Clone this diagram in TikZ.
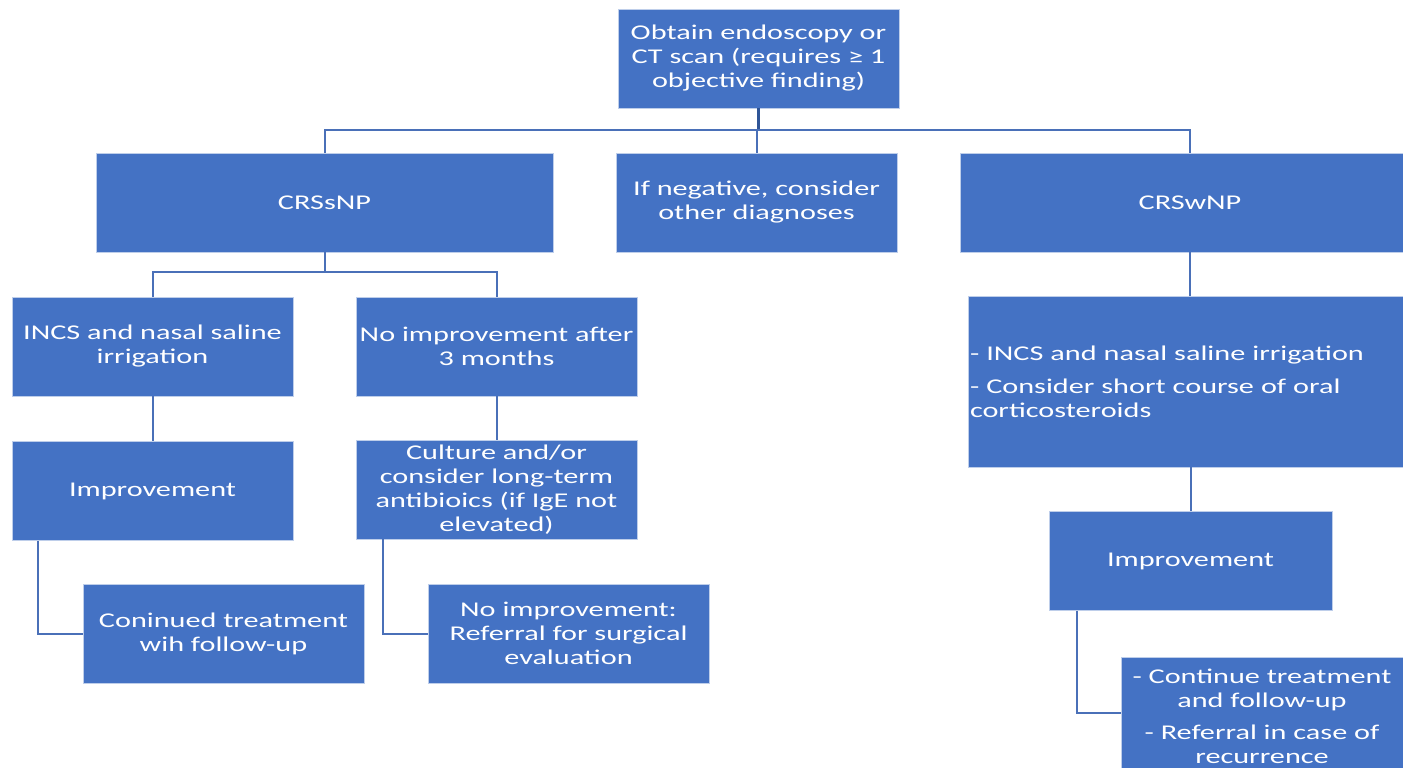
\documentclass[tikz,border=0pt]{standalone}
\usepackage{fontspec}
\setmainfont{Carlito}[FakeStretch=1.44]
\definecolor{boxblue}{HTML}{4472C4}
\definecolor{linkblue}{HTML}{4A70B8}
\definecolor{trunkblue}{HTML}{2F5597}
\tikzset{
    box/.style={draw=white!65!boxblue, line width=0.8pt, fill=boxblue, text=white, align=center,
        minimum width=281, minimum height=99, inner sep=1pt, font=\fontsize{21}{24}\selectfont},
    link/.style={draw=linkblue, line width=2pt},
}
\begin{document}
\begin{tikzpicture}[x=1pt, y=-1pt]
    \useasboundingbox (0,0) rectangle (1403,768);
    % top
    \node[box] (obtain) at (758.5,58.5) {Obtain endoscopy or\\CT scan (requires ≥ 1\\objective finding)};
    \node[box, minimum width=457] (crssnp) at (324.5,202.5) {CRSsNP};
    \node[box] (negative) at (756.5,202.5) {If negative, consider\\other diagnoses};
    \node[box, minimum width=460] (crswnp) at (1190,202.5) {CRSwNP};
    % CRSsNP branch
    \node[box] (incsL) at (152.5,346.5) {INCS and nasal saline\\irrigation};
    \node[box] (noimpr) at (496.5,346.5) {No improvement after\\3 months};
    \node[box] (imprL) at (152.5,491) {Improvement};
    \node[box] (culture) at (496.5,489.5) {Culture and/or\\consider long-term\\antibioics (if IgE not\\elevated)};
    \node[box] (contL) at (223.5,633.5) {Coninued treatment\\wih follow-up};
    \node[box] (referral) at (568.5,633.5) {No improvement:\\Referral for surgical\\evaluation};
    % CRSwNP branch
    \node[box, minimum width=437, minimum height=171, text width=433, align=left] (incsR) at (1186.5,381.5)
        {- INCS and nasal saline irrigation\\[9pt]- Consider short course of oral\\corticosteroids};
    \node[box, minimum width=283] (imprR) at (1190.5,561) {Improvement};
    \node[box, minimum width=282, minimum height=118] (contR) at (1262,716)
        {- Continue treatment\\and follow-up\\[8pt]- Referral in case of\\recurrence};
    % connectors
    \coordinate (bus) at (758,130);
    \coordinate (bus2) at (324.5,272);
    \draw[draw=trunkblue, line width=3pt] (obtain.south) -- (obtain.south |- bus);
    \draw[link] (crssnp.north) |- (bus) -| (crswnp.north);
    \draw[link] (negative.north) -- (negative.north |- bus);
    \draw[link] (crssnp.south) -- (bus2);
    \draw[link] (incsL.north) |- (bus2) -| (noimpr.north);
    \draw[link] (incsL) -- (imprL);
    \draw[link] (noimpr) -- (culture);
    \draw[link] ([xshift=26pt]imprL.south west) |- (contL.west);
    \draw[link] ([xshift=27pt]culture.south west) |- (referral.west);
    \draw[link] (crswnp.south) -- (crswnp.south |- incsR.north);
    \draw[link] (incsR.south -| imprR.north) -- (imprR.north);
    \draw[link] ([xshift=28pt]imprR.south west) |- (contR.west |- 0,713);
\end{tikzpicture}
\end{document}
